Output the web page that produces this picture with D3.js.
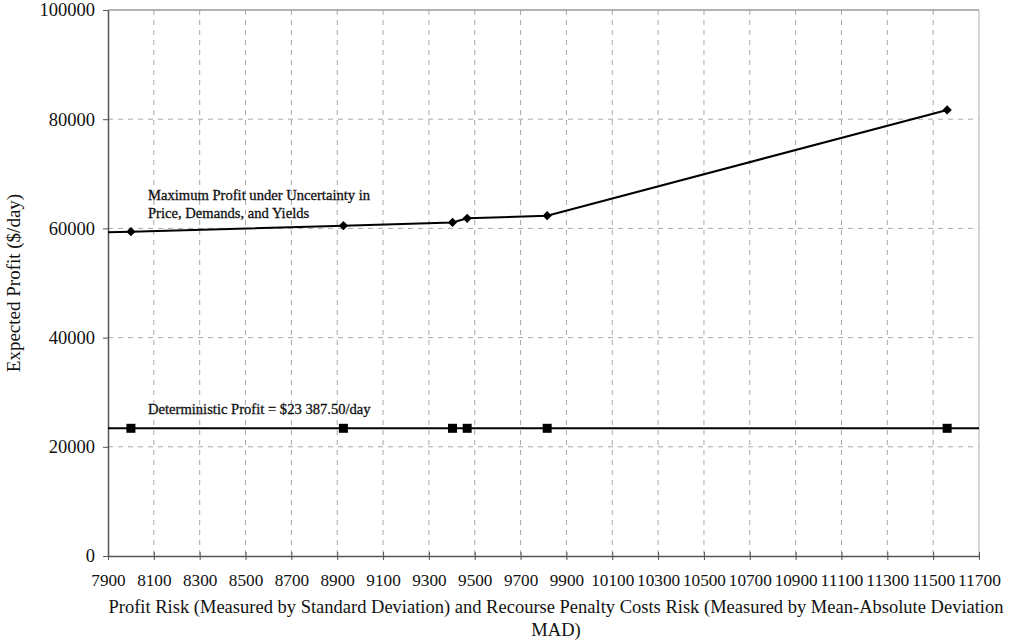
<!DOCTYPE html>
<html><head><meta charset="utf-8">
<script src="https://cdn.jsdelivr.net/npm/d3@7"></script>
<style>body{margin:0;background:#fff}</style>
</head><body><svg id="c" width="1009" height="643"></svg>
<script>
// ---- data ----
const xTickValues = [7900,8100,8300,8500,8700,8900,9100,9300,9500,9700,9900,10100,10300,10500,10700,10900,11100,11300,11500,11700];
const yTickValues = [0,20000,40000,60000,80000,100000];
const riskValues = [8000, 8927, 9403, 9467, 9816, 11561];
const maxProfitValues = [59400, 60500, 61100, 61850, 62330, 81700];
const maxProfitLeadIn = [7900, 59280];   // line continues to the axis, no marker
const deterministicProfit = 23387.5;
const xTitleLines = ["Profit Risk (Measured by Standard Deviation) and Recourse Penalty Costs Risk (Measured by Mean-Absolute Deviation", "MAD)"];
const yTitle = "Expected Profit ($/day)";
const labelMax = ["Maximum Profit under Uncertainty in", "Price, Demands, and Yields"];
const labelDet = "Deterministic Profit = $23 387.50/day";

// ---- layout ----
const svg = d3.select("#c");
const L = 108, R = 979, T = 10, B = 556;
const font = "'Liberation Serif','Times New Roman',serif";
const x = d3.scaleLinear().domain([7900, 11700]).range([L, R]);
const y = d3.scaleLinear().domain([0, 100000]).range([B, T]);

// grid
const g = svg.append("g");
g.selectAll("line.vg").data(xTickValues.slice(1, -1)).join("line")
  .attr("x1", d => x(d)).attr("x2", d => x(d)).attr("y1", T).attr("y2", B)
  .attr("stroke", "#a8a8a8").attr("stroke-width", 1).attr("stroke-dasharray", "5,5");
g.selectAll("line.hg").data(yTickValues.slice(1, -1)).join("line")
  .attr("x1", L).attr("x2", R).attr("y1", d => y(d)).attr("y2", d => y(d))
  .attr("stroke", "#a8a8a8").attr("stroke-width", 1).attr("stroke-dasharray", "5,5");
// top and right border
svg.append("line").attr("x1", L).attr("x2", R).attr("y1", T).attr("y2", T).attr("stroke", "#9a9a9a").attr("stroke-width", 1.5);
svg.append("line").attr("x1", R).attr("x2", R).attr("y1", T).attr("y2", B).attr("stroke", "#b0b0b0").attr("stroke-width", 1);

// axes
const xAxis = d3.axisBottom(x).tickValues(xTickValues).tickFormat(d3.format("d")).tickSizeInner(4).tickSizeOuter(0).tickPadding(14);
const xa = svg.append("g").attr("transform", `translate(0,${B})`).call(xAxis);
xa.select(".domain").attr("stroke", "#555").attr("stroke-width", 1.5);
xa.selectAll(".tick line").attr("y1", -4).attr("y2", 4).attr("stroke", "#555");
xa.selectAll("text").attr("font-family", font).attr("font-size", 17).attr("fill", "#111")
  .attr("textLength", d => String(d).length * 8.6).attr("lengthAdjust", "spacingAndGlyphs");

const yAxis = d3.axisLeft(y).tickValues(yTickValues).tickFormat(d3.format("d")).tickSizeInner(5).tickSizeOuter(0).tickPadding(8);
const ya = svg.append("g").attr("transform", `translate(${L},0)`).call(yAxis);
ya.select(".domain").attr("stroke", "#555").attr("stroke-width", 1.5);
ya.selectAll(".tick line").attr("stroke", "#555");
ya.selectAll("text").attr("font-family", font).attr("font-size", 18.5).attr("fill", "#111");

// series: max profit
const maxPts = riskValues.map((r, i) => [r, maxProfitValues[i]]);
const line = d3.line().x(d => x(d[0])).y(d => y(d[1]));
svg.append("path").datum([maxProfitLeadIn, ...maxPts]).attr("d", line)
  .attr("fill", "none").attr("stroke", "#000").attr("stroke-width", 2);
svg.selectAll("path.dia").data(maxPts).join("path")
  .attr("d", d3.symbol().type(d3.symbolDiamond2).size(55))
  .attr("transform", d => `translate(${x(d[0])},${y(d[1])})`).attr("fill", "#000");

// series: deterministic
svg.append("path").datum([[7900, deterministicProfit], [11700, deterministicProfit]]).attr("d", line)
  .attr("fill", "none").attr("stroke", "#000").attr("stroke-width", 2);
svg.selectAll("rect.sq").data(riskValues).join("rect")
  .attr("x", d => x(d) - 4.5).attr("y", y(deterministicProfit) - 4.5)
  .attr("width", 9).attr("height", 9).attr("fill", "#000");

// annotations
const ann = svg.append("text").attr("font-family", font).attr("font-size", 14.6).attr("fill", "#111")
  .attr("stroke", "#111").attr("stroke-width", 0.3);
ann.selectAll("tspan").data(labelMax).join("tspan").attr("x", 148).attr("y", (d, i) => 200 + i * 18).text(d => d);
svg.append("text").attr("font-family", font).attr("font-size", 14.6).attr("fill", "#111")
  .attr("stroke", "#111").attr("stroke-width", 0.3)
  .attr("x", 148).attr("y", 414).text(labelDet);

// titles
svg.append("text").attr("font-family", font).attr("font-size", 18.5).attr("fill", "#111")
  .attr("text-anchor", "middle")
  .selectAll("tspan").data(xTitleLines).join("tspan")
  .attr("x", 556).attr("y", (d, i) => 613 + i * 23).text(d => d);
svg.append("text").attr("font-family", font).attr("font-size", 19).attr("fill", "#111")
  .attr("text-anchor", "middle").attr("transform", "translate(20,283) rotate(-90)").text(yTitle);
</script>
</body></html>
